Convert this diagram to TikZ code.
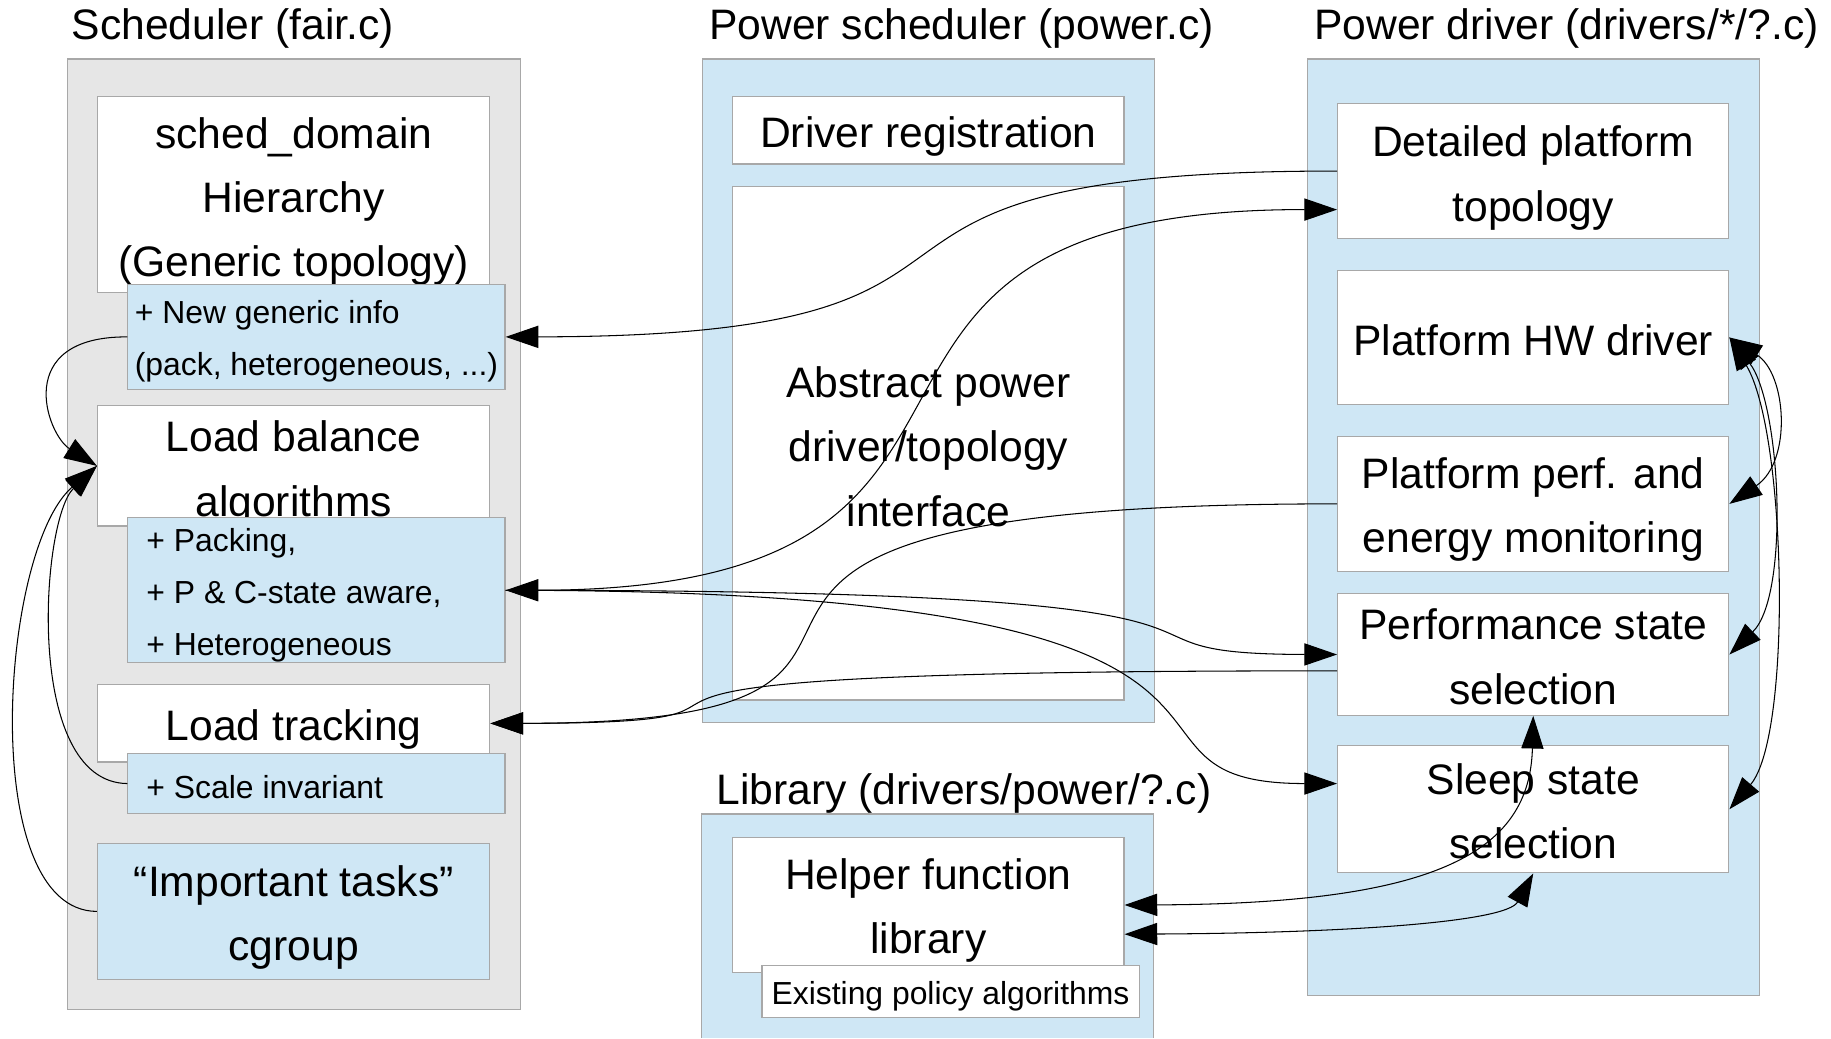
\documentclass[tikz,border=0pt]{standalone}
\usepackage{fontspec}
\setmainfont{Liberation Sans}
\usetikzlibrary{arrows.meta}
\definecolor{boxblue}{HTML}{CFE7F5}
\definecolor{boxgray}{HTML}{E6E6E6}
\definecolor{edge}{HTML}{A8A8A8}
\newcommand{\lgtxt}{\fontsize{36.5pt}{55pt}\selectfont}
\newcommand{\smtxt}{\fontsize{27.3pt}{44.5pt}\selectfont}
\tikzset{
  area/.style={draw=edge, line width=1pt, anchor=north west, inner sep=0pt},
  wbox/.style={area, fill=white},
  bbox/.style={area, fill=boxblue},
  txt/.style={inner sep=0pt, align=center, font=\lgtxt},
  notetxt/.style={inner sep=0pt, anchor=west, align=left, font=\smtxt},
  head/.style={anchor=base west, inner sep=0pt, font=\lgtxt},
  >={Triangle[length=28pt,width=19pt]}
}

\begin{document}
\begin{tikzpicture}[x=1pt,y=-1pt,line width=0.9pt]
\useasboundingbox (0,0) rectangle (1568,889);
% containers
\node[area, fill=boxgray, minimum width=388pt, minimum height=814pt] (sched) at (57,50) {};
\node[bbox, minimum width=387pt, minimum height=568pt] (psched) at (601,50) {};
\node[bbox, minimum width=387pt, minimum height=802pt] (pdrv) at (1119,50) {};
\fill[boxblue] (601,697) rectangle (988,889);
\draw[edge, line width=1pt] (601,889) |- (988,697) -- (988,889);
\node[head] (schedhd) at (61,34) {Scheduler (fair.c)};
\node[head] (pschedhd) at (607,34) {Power scheduler (power.c)};
\node[head] (pdrvhd) at (1125,34) {Power driver (drivers/*/?.c)};
\node[head] (libhd) at (613,689) {Library (drivers/power/?.c)};
% scheduler
\node[wbox, minimum width=336pt, minimum height=168pt] (dom) at (83,82) {};
\node[txt] (domtxt) at ([yshift=-6pt]dom.center) {sched\_domain\\Hierarchy\\(Generic topology)};
\node[bbox, minimum width=323pt, minimum height=90pt] (newinfo) at (109,243) {};
\node[notetxt] (newinfotxt) at ([xshift=6pt,yshift=-4pt]newinfo.west) {+ New generic info\\(pack, heterogeneous, ...)};
\node[wbox, minimum width=336pt, minimum height=103pt] (lb) at (83,347) {};
\node[txt] (lbtxt) at ([yshift=-6pt]lb.center) {Load balance\\algorithms};
\node[bbox, minimum width=323pt, minimum height=124pt] (pack) at (109,443) {};
\node[notetxt] (packtxt) at ([xshift=16pt,yshift=-4pt]pack.west) {+ Packing,\\+ P \& C-state aware,\\+ Heterogeneous};
\node[wbox, minimum width=336pt, minimum height=66pt] (lt) at (83,586) {};
\node[txt] (lttxt) at ([yshift=-5pt]lt.center) {Load tracking};
\node[bbox, minimum width=323pt, minimum height=51pt] (scale) at (109,645) {};
\node[notetxt] (scaletxt) at ([xshift=16pt,yshift=-3pt]scale.west) {+ Scale invariant};
\node[bbox, minimum width=336pt, minimum height=116pt] (imp) at (83,722) {};
\node[txt] (imptxt) at ([yshift=-5pt]imp.center) {“Important tasks”\\cgroup};
% power scheduler and library
\node[wbox, minimum width=335pt, minimum height=58pt] (reg) at (627,82) {};
\node[txt] (regtxt) at ([yshift=-5pt]reg.center) {Driver registration};
\node[wbox, minimum width=335pt, minimum height=440pt] (abs) at (627,159) {};
\node[txt] (abstxt) at ([yshift=-3pt]abs.center) {Abstract power\\driver/topology\\interface};
\node[wbox, minimum width=335pt, minimum height=115pt] (helper) at (627,717) {};
\node[txt] (helpertxt) at ([yshift=-5pt]helper.center) {Helper function\\library};
\node[wbox, minimum width=323pt, minimum height=45pt] (exist) at (652,826) {};
\node[txt, font=\smtxt] (existtxt) at ([yshift=-4pt]exist.center) {Existing policy algorithms};
% power driver
\node[wbox, minimum width=335pt, minimum height=116pt] (topo) at (1145,88) {};
\node[txt] (topotxt) at ([yshift=-6pt]topo.center) {Detailed platform\\topology};
\node[wbox, minimum width=335pt, minimum height=115pt] (hw) at (1145,231) {};
\node[txt] (hwtxt) at ([yshift=-2pt]hw.center) {Platform HW driver};
\node[wbox, minimum width=335pt, minimum height=116pt] (mon) at (1145,373) {};
\node[txt] (montxt) at ([yshift=-5pt]mon.center) {Platform perf. and\\energy monitoring};
\node[wbox, minimum width=335pt, minimum height=104pt] (perf) at (1145,508) {};
\node[txt] (perftxt) at ([yshift=-2pt]perf.center) {Performance state\\selection};
\node[wbox, minimum width=335pt, minimum height=109pt] (sleep) at (1145,638) {};
\node[txt] (sleeptxt) at ([yshift=-2pt]sleep.center) {Sleep state\\selection};
% connectors
\draw[->] (topo.west) .. controls (645,146) and (932,288) .. (newinfo.east);
\draw[<->] (pack.east) .. controls (937,505) and (640,179) .. ([yshift=-33pt]topo.west);
\draw[->] (pack.east) .. controls (1180,505) and (900,560) .. (perf.west);
\draw[->] (pack.east) .. controls (1177,505) and (914,671) .. ([yshift=22pt]sleep.west);
\draw[->] (mon.west) .. controls (424,431) and (909,619) .. (lt.east);
\draw[->] ([yshift=-14pt]perf.west) .. controls (333,574) and (762,619) .. (lt.east);
\draw[->] (newinfo.west) .. controls (10,288) and (40,372) .. (lb.west);
\draw[->] (scale.west) .. controls (20,670) and (35,445) .. (lb.west);
\draw[->] (imp.west) .. controls (-20,780) and (0,470) .. (lb.west);
\draw[<->] (hw.east) .. controls (1530,320) and (1535,395) .. (mon.east);
\draw[<->] (hw.east) .. controls (1525,345) and (1533,510) .. (perf.east);
\draw[<->] (hw.east) .. controls (1530,370) and (1535,630) .. (sleep.east);
\draw[<->] (helper.east) .. controls (1230,774) and (1310,730) .. (perf.south);
\draw[<->] ([yshift=-25pt]helper.east) .. controls (1150,799) and (1290,790) .. (sleep.south);
\end{tikzpicture}
\end{document}
